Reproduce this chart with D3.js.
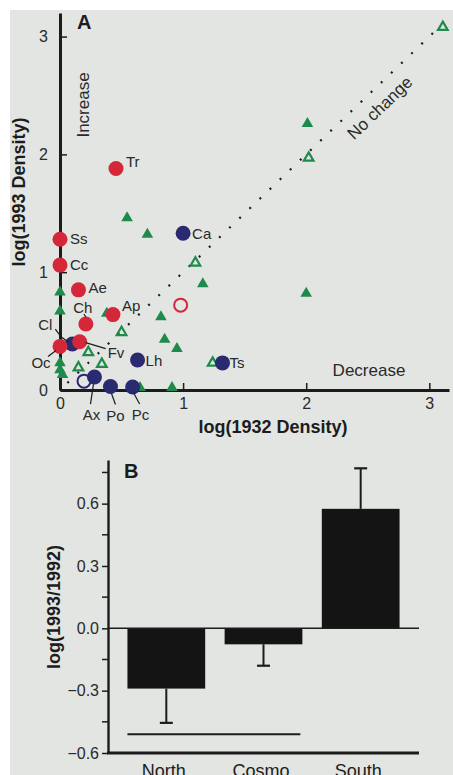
<!DOCTYPE html>
<html>
<head>
<meta charset="utf-8">
<script src="https://cdn.jsdelivr.net/npm/d3@7"></script>
<style>
  body { margin: 0; background: #fff; }
  svg { display: block; font-family: "Liberation Sans", Arial, sans-serif; }
</style>
</head>
<body>
<script>
// ---- panel A data: log(1932 density) vs log(1993 density) ----
const redSpecies = [
  {name: 'Tr', x: 0.455, y: 1.88},
  {name: 'Ss', x: 0.0,   y: 1.28},
  {name: 'Cc', x: 0.0,   y: 1.06},
  {name: 'Ae', x: 0.15,  y: 0.85},
  {name: 'Ap', x: 0.43,  y: 0.64},
  {name: 'Ch', x: 0.21,  y: 0.56},
  {name: 'Oc', x: 0.0,   y: 0.37},
  {name: 'Fv', x: 0.16,  y: 0.41}
];
const redOpen = [{x: 0.98, y: 0.72}];

const blueSpecies = [
  {name: 'Cl', x: 0.10, y: 0.39},
  {name: 'Ca', x: 1.0,  y: 1.33},
  {name: 'Lh', x: 0.63, y: 0.255},
  {name: 'Ts', x: 1.32, y: 0.23},
  {name: 'Ax', x: 0.28, y: 0.11},
  {name: 'Po', x: 0.41, y: 0.03},
  {name: 'Pc', x: 0.59, y: 0.025}
];
const blueOpen = [{x: 0.195, y: 0.075}];

const greenFilled = [
  {x: 0.545, y: 1.46}, {x: 0.71, y: 1.32}, {x: 0.0, y: 0.83}, {x: 0.0, y: 0.67},
  {x: 0.38, y: 0.65}, {x: 1.16, y: 0.90}, {x: 0.82, y: 0.62}, {x: 0.85, y: 0.43},
  {x: 0.95, y: 0.35}, {x: 0.0, y: 0.23}, {x: 0.0, y: 0.17}, {x: 0.02, y: 0.13},
  {x: 0.65, y: 0.02}, {x: 0.91, y: 0.02}, {x: 2.01, y: 2.26}, {x: 2.0, y: 0.82}
];
const greenOpen = [
  {x: 3.11, y: 3.08}, {x: 2.02, y: 1.97}, {x: 1.10, y: 1.08}, {x: 0.50, y: 0.49},
  {x: 0.23, y: 0.32}, {x: 0.15, y: 0.19}, {x: 0.34, y: 0.22}, {x: 1.24, y: 0.23}
];
const ticksA = [0, 1, 2, 3];

// label placement (offsets from the point, px) and leader lines
const labelPlace = {
  Tr: {dx: 10, dy: -7, anchor: 'start'},
  Ss: {dx: 10, dy: 0, anchor: 'start'},
  Cc: {dx: 10, dy: 0, anchor: 'start'},
  Ae: {dx: 10, dy: -2, anchor: 'start'},
  Ap: {dx: 9, dy: -9, anchor: 'start'},
  Ch: {dx: -3, dy: -16, anchor: 'middle', leader: [[-2, -10], [0, -7]]},
  Cl: {dx: -27, dy: -19, anchor: 'middle', leader: [[-17, -15], [-11, -7], [-4, -2]]},
  Oc: {dx: -19, dy: 16, anchor: 'middle', leader: [[-12, 10], [-4, 4]]},
  Fv: {dx: 28, dy: 11, anchor: 'start', leader: [[26, 7], [6, 1]]},
  Lh: {dx: 8, dy: 1, anchor: 'start'},
  Ca: {dx: 9, dy: 0, anchor: 'start'},
  Ts: {dx: 7, dy: 0, anchor: 'start'},
  Ax: {dx: -3, dy: 38, anchor: 'middle', leader: [[-1, 7], [-4, 27]]},
  Po: {dx: 5, dy: 29, anchor: 'middle', leader: [[1, 7], [5, 18]]},
  Pc: {dx: 8, dy: 28, anchor: 'middle', leader: [[1, 6], [7, 17]]}
};

// ---- panel B data: log(1993/1992) by group ----
const groups = ['North.', 'Cosmo.', 'South.'];
const meanChange = [-0.29, -0.077, 0.575];
const errChange = [0.165, 0.103, 0.195];
const sigGroups = ['North.', 'Cosmo.'];
const sigLevel = -0.51;
const ticksB = [-0.6, -0.3, 0.0, 0.3, 0.6];
const minorB = [-0.45, -0.15, 0.15, 0.45, 0.75];

const W = 453, H = 775;
const red = '#d4283a', navy = '#2a2a70', green = '#1f8a4c', ink = '#1c1c1c';

const svg = d3.select('body').append('svg')
    .attr('width', W)
    .attr('height', H);

// scanned page background
svg.append('rect')
    .attr('x', 10).attr('y', 10)
    .attr('width', W - 10).attr('height', H - 10)
    .attr('fill', '#e2e5e1');

// ================= Panel A =================
const xA = d3.scaleLinear().domain([0, 3.16]).range([60, 449]);
const yA = d3.scaleLinear().domain([0, 3.2]).range([390, 13]);
const gA = svg.append('g');

const axB = gA.append('g')
    .attr('transform', `translate(0,${yA(0)})`)
    .call(d3.axisBottom(xA).tickValues(ticksA).tickFormat(d3.format('d'))
        .tickSizeInner(-7).tickSizeOuter(0).tickPadding(8));
const axL = gA.append('g')
    .attr('transform', `translate(${xA(0)},0)`)
    .call(d3.axisLeft(yA).tickValues(ticksA).tickFormat(d3.format('d'))
        .tickSizeInner(-7).tickSizeOuter(0).tickPadding(12));
[axB, axL].forEach(ax => {
    ax.select('.domain').attr('stroke', ink).attr('stroke-width', 3);
    ax.selectAll('.tick line').attr('stroke', ink).attr('stroke-width', 1.5);
    ax.selectAll('.tick text').attr('fill', '#2a2a2a')
        .style('font-size', '16px').style('font-family', '"Liberation Sans", Arial, sans-serif');
});

// no-change line
gA.append('line')
    .attr('x1', xA(0.06)).attr('y1', yA(0.06))
    .attr('x2', xA(3.1)).attr('y2', yA(3.1))
    .attr('stroke', ink).attr('stroke-width', 2.2)
    .attr('stroke-dasharray', '2,12');

const ang = Math.atan2(yA(1) - yA(0), xA(1) - xA(0)) * 180 / Math.PI;
gA.append('text')
    .attr('transform', `translate(${xA(2.63)},${yA(2.36)}) rotate(${ang})`)
    .attr('text-anchor', 'middle')
    .style('font-size', '17px').attr('fill', '#2a2a2a')
    .text('No change');

gA.append('text')
    .attr('transform', `translate(83,105) rotate(-90)`)
    .attr('text-anchor', 'middle').attr('dy', '0.35em')
    .style('font-size', '17px').attr('fill', '#2a2a2a')
    .text('Increase');
gA.append('text')
    .attr('x', 369).attr('y', 370).attr('dy', '0.35em')
    .attr('text-anchor', 'middle')
    .style('font-size', '17px').attr('fill', '#2a2a2a')
    .text('Decrease');

// titles
gA.append('text')
    .attr('x', 273).attr('y', 433)
    .attr('text-anchor', 'middle')
    .style('font-size', '18px').style('font-weight', 'bold').attr('fill', ink)
    .text('log(1932 Density)');
gA.append('text')
    .attr('transform', 'translate(25,192) rotate(-90)')
    .attr('text-anchor', 'middle')
    .style('font-size', '18px').style('font-weight', 'bold').attr('fill', ink)
    .text('log(1993 Density)');
gA.append('text')
    .attr('x', 77).attr('y', 29)
    .style('font-size', '20px').style('font-weight', 'bold').attr('fill', ink)
    .text('A');

// markers
const tri = d3.symbol().type(d3.symbolTriangle);
gA.selectAll('path.gf')
    .data(greenFilled)
    .join('path')
    .classed('gf', true)
    .attr('d', tri.size(58)())
    .attr('transform', d => `translate(${xA(d.x)},${yA(d.y)})`)
    .attr('fill', green);
gA.selectAll('path.go')
    .data(greenOpen)
    .join('path')
    .classed('go', true)
    .attr('d', tri.size(40)())
    .attr('transform', d => `translate(${xA(d.x)},${yA(d.y)})`)
    .attr('fill', 'none')
    .attr('stroke', green).attr('stroke-width', 2.2);

gA.selectAll('circle.bo')
    .data(blueOpen)
    .join('circle')
    .classed('bo', true)
    .attr('cx', d => xA(d.x)).attr('cy', d => yA(d.y)).attr('r', 6.5)
    .attr('fill', 'none').attr('stroke', navy).attr('stroke-width', 2);
gA.selectAll('circle.bf')
    .data(blueSpecies)
    .join('circle')
    .classed('bf', true)
    .attr('cx', d => xA(d.x)).attr('cy', d => yA(d.y)).attr('r', 7.5)
    .attr('fill', navy);
gA.selectAll('circle.ro')
    .data(redOpen)
    .join('circle')
    .classed('ro', true)
    .attr('cx', d => xA(d.x)).attr('cy', d => yA(d.y)).attr('r', 6.5)
    .attr('fill', 'none').attr('stroke', red).attr('stroke-width', 2);
gA.selectAll('circle.rf')
    .data(redSpecies)
    .join('circle')
    .classed('rf', true)
    .attr('cx', d => xA(d.x)).attr('cy', d => yA(d.y)).attr('r', 7.5)
    .attr('fill', red);

// species labels
const labelled = redSpecies.concat(blueSpecies);
gA.selectAll('polyline.leader')
    .data(labelled.filter(d => labelPlace[d.name].leader))
    .join('polyline')
    .classed('leader', true)
    .attr('points', d => labelPlace[d.name].leader
        .map(p => [xA(d.x) + p[0], yA(d.y) + p[1]].join(',')).join(' '))
    .attr('fill', 'none').attr('stroke', ink).attr('stroke-width', 1.2);
gA.selectAll('text.sp')
    .data(labelled)
    .join('text')
    .classed('sp', true)
    .attr('x', d => xA(d.x) + labelPlace[d.name].dx)
    .attr('y', d => yA(d.y) + labelPlace[d.name].dy)
    .attr('dy', '0.35em')
    .attr('text-anchor', d => labelPlace[d.name].anchor)
    .style('font-size', '15px').attr('fill', '#2a2a2a')
    .text(d => d.name);

// ================= Panel B =================
const xB = d3.scaleBand().domain(groups).range([108, 419])
    .paddingInner(0.2).paddingOuter(0.2);
const yB = d3.scaleLinear().domain([-0.6, 0.81]).range([753, 460]);
const gB = svg.append('g');

// bars
gB.selectAll('rect.bar')
    .data(groups)
    .join('rect')
    .classed('bar', true)
    .attr('x', d => xB(d))
    .attr('width', xB.bandwidth())
    .attr('y', (d, i) => yB(Math.max(0, meanChange[i])))
    .attr('height', (d, i) => Math.abs(yB(meanChange[i]) - yB(0)))
    .attr('fill', '#141414');

// one-sided error bars
const errEnd = (i) => meanChange[i] + Math.sign(meanChange[i]) * errChange[i];
gB.selectAll('line.err')
    .data(groups)
    .join('line')
    .classed('err', true)
    .attr('x1', d => xB(d) + xB.bandwidth() / 2)
    .attr('x2', d => xB(d) + xB.bandwidth() / 2)
    .attr('y1', (d, i) => yB(meanChange[i]))
    .attr('y2', (d, i) => yB(errEnd(i)))
    .attr('stroke', ink).attr('stroke-width', 2);
gB.selectAll('line.cap')
    .data(groups)
    .join('line')
    .classed('cap', true)
    .attr('x1', d => xB(d) + xB.bandwidth() / 2 - 6.5)
    .attr('x2', d => xB(d) + xB.bandwidth() / 2 + 6.5)
    .attr('y1', (d, i) => yB(errEnd(i)))
    .attr('y2', (d, i) => yB(errEnd(i)))
    .attr('stroke', ink).attr('stroke-width', 2.2);

// zero line
gB.append('line')
    .attr('x1', 108).attr('x2', 419)
    .attr('y1', yB(0)).attr('y2', yB(0))
    .attr('stroke', ink).attr('stroke-width', 1.4);

// significance bar
gB.append('line')
    .attr('x1', xB(sigGroups[0]))
    .attr('x2', xB(sigGroups[sigGroups.length - 1]) + xB.bandwidth() - 2)
    .attr('y1', yB(sigLevel)).attr('y2', yB(sigLevel))
    .attr('stroke', ink).attr('stroke-width', 2);

// axes
const axBL = gB.append('g')
    .attr('transform', 'translate(108,0)')
    .call(d3.axisLeft(yB).tickValues(ticksB).tickFormat(d3.format('.1f'))
        .tickSizeInner(6).tickSizeOuter(0).tickPadding(3));
axBL.select('.domain').attr('stroke', ink).attr('stroke-width', 2.4);
axBL.selectAll('.tick line').attr('stroke', ink).attr('stroke-width', 1.5);
axBL.selectAll('.tick text').attr('fill', '#2a2a2a')
    .style('font-size', '16px').style('font-family', '"Liberation Sans", Arial, sans-serif');
gB.selectAll('line.minor')
    .data(minorB)
    .join('line')
    .classed('minor', true)
    .attr('x1', 102).attr('x2', 108)
    .attr('y1', d => yB(d)).attr('y2', d => yB(d))
    .attr('stroke', ink).attr('stroke-width', 1.5);

gB.append('line')
    .attr('x1', 107).attr('x2', 419)
    .attr('y1', yB(-0.6)).attr('y2', yB(-0.6))
    .attr('stroke', ink).attr('stroke-width', 3);

gB.selectAll('text.cat')
    .data(groups)
    .join('text')
    .classed('cat', true)
    .attr('x', d => xB(d) + xB.bandwidth() / 2)
    .attr('y', 777)
    .attr('text-anchor', 'middle')
    .style('font-size', '18px').attr('fill', ink)
    .text(d => d);

gB.append('text')
    .attr('transform', 'translate(60,607) rotate(-90)')
    .attr('text-anchor', 'middle')
    .style('font-size', '18px').style('font-weight', 'bold').attr('fill', ink)
    .text('log(1993/1992)');
gB.append('text')
    .attr('x', 124).attr('y', 478)
    .style('font-size', '20px').style('font-weight', 'bold').attr('fill', ink)
    .text('B');
</script>
</body>
</html>
